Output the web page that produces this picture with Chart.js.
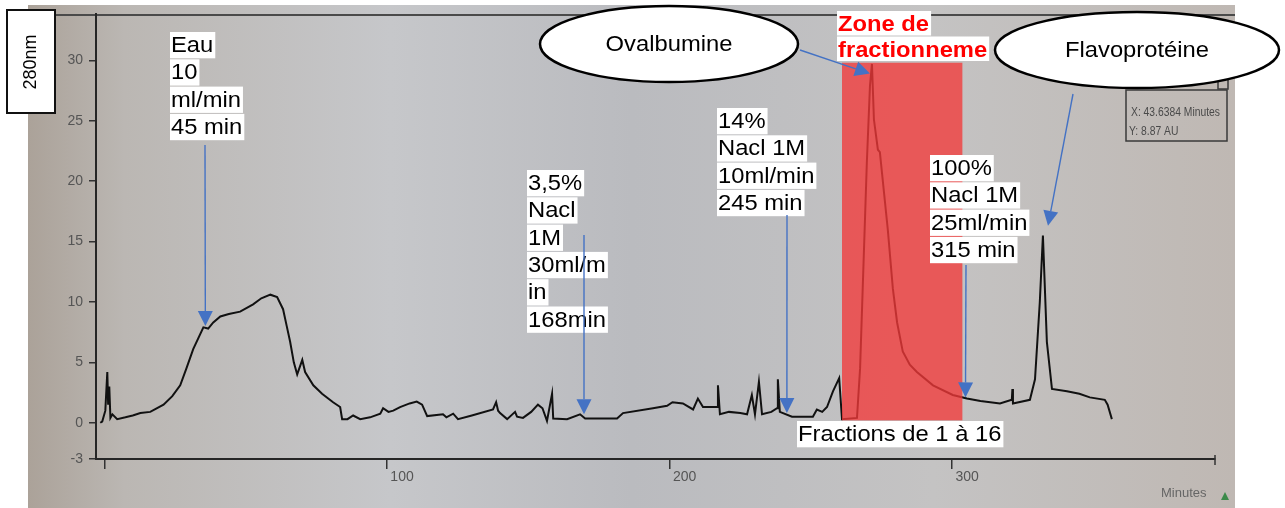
<!DOCTYPE html>
<html>
<head>
<meta charset="utf-8">
<title>Chromatogramme 280nm</title>
<script src="https://cdn.jsdelivr.net/npm/chart.js@4.4.1/dist/chart.umd.min.js"></script>
<style>
  html, body { margin: 0; padding: 0; background: #fff; }
  #wrap { width: 1285px; height: 508px; }
</style>
</head>
<body>
<div id="wrap"><canvas id="chromato" width="1285" height="508"></canvas></div>
<script>
// Elution time (minutes) and absorbance at 280 nm (AU)
const minutes = [
  -1.5, -0.8, 0.3, 1.0, 1.3, 1.7, 2.1, 2.8, 4.5, 7.4, 10, 12.7, 16.2, 20.9, 24, 26.8, 29, 31.4,
  35, 36.7, 38.5, 41, 44, 48, 52.6, 55.5, 58.7, 61.1, 63.2, 64.5, 65.7, 67, 68.2, 70, 71, 73.9,
  77, 80.9, 83.4, 84.1, 86, 88, 90.5, 94, 97.6, 98.6, 100.5, 102.2, 104.6, 108, 110.5, 112.4,
  114.2, 119.8, 121, 123.4, 125.1, 130, 137.5, 138.6, 139.3, 140, 142.5, 145.3, 146, 148.1, 151,
  153.4, 155, 156.6, 158.4, 158.8, 163.7, 168.3, 170.1, 181.4, 183.5, 194.1, 199.1, 201, 204.7,
  208.3, 210, 211.8, 216.8, 217.1, 217.8, 221, 225, 227.4, 229.1, 230.2, 231.6, 232.7, 236, 238,
  238.3, 239, 243.3, 250.7, 252.1, 254, 255.7, 257.8, 260, 261, 266.3, 267.4, 269.8, 270.9, 271.6,
  272.3, 273.7, 274.4, 277.2, 279, 280.5, 282.5, 285, 287.5, 293.2, 300.2, 305.2, 310, 316.9, 321.1,
  321.3, 321.5, 327.5, 329.3, 331, 332.1, 333.5, 335.3, 340.6, 345, 348.7, 354, 355, 356.5
];
const absorbance = [
  0, 0.1, 1.0, 4.2, 1.5, 3.0, 0.4, 0.7, 0.3, 0.45, 0.6, 0.8, 0.9, 1.5, 2.2, 3.1, 4.5, 6.1,
  7.9, 7.8, 8.3, 8.8, 9.0, 9.2, 9.8, 10.3, 10.6, 10.4, 9.4, 8.0, 6.7, 5.0, 4.0, 5.2, 4.2, 3.1,
  2.4, 1.7, 1.3, 0.3, 0.3, 0.6, 0.3, 0.45, 0.75, 1.2, 0.9, 1.0, 1.3, 1.6, 1.75, 1.5,
  0.55, 0.7, 0.45, 0.75, 0.3, 0.6, 1.1, 1.7, 1.0, 0.8, 0.3, 0.9, 0.5, 0.4, 0.9,
  1.5, 1.2, 0.15, 2.4, 0.35, 0.3, 0.7, 0.35, 0.35, 0.8, 1.2, 1.4, 1.7, 1.6,
  1.1, 2.0, 1.3, 1.3, 3.1, 0.7, 0.9, 0.8, 0.7, 2.3, 0.7, 3.4, 0.7, 0.9, 1.2,
  3.6, 0.9, 0.5, 0.5, 1.1, 0.9, 1.3, 2.6, 3.7, 0.3, 0.4, 4.5, 21.6, 27.9, 29.7,
  25.1, 22.6, 22.4, 16.0, 11.1, 8.3, 5.9, 4.8, 4.2, 3.1, 2.3, 2.0, 1.8, 1.6, 1.9,
  2.8, 1.6, 1.9, 3.6, 10, 15.5, 6.7, 2.8, 2.6, 2.4, 2.1, 1.9, 1.5, 0.3
];
const xTicks = [0, 100, 200, 300];
const yTicks = [-3, 0, 5, 10, 15, 20, 25, 30];

// Fraction collection window (minutes) and its height (AU)
const fractionZone = [261, 303.6];
const fractionHeight = [0.2, 29.8];

// Annotation text blocks (pixel layout) with arrow tips in data units
const notes = [
  { lines: ["Eau", "10", "ml/min", "45 min"], x: 171, y: 32, tail: [205, 145], tip: [35.7, 8.0] },
  { lines: ["3,5%", "Nacl", "1M", "30ml/m", "in", "168min"], x: 528, y: 170, tail: [584, 235], tip: [169.7, 0.7] },
  { lines: ["14%", "Nacl 1M", "10ml/min", "245 min"], x: 718, y: 108, tail: [787, 215], tip: [241.5, 0.8] },
  { lines: ["100%", "Nacl 1M", "25ml/min", "315 min"], x: 931, y: 155, tail: [966, 265], tip: [304.7, 2.1] }
];
const bubbles = [
  { text: "Ovalbumine", cx: 669, cy: 44, rx: 129, ry: 38, tail: [800, 50], tip: [270.9, 28.9] },
  { text: "Flavoprotéine", cx: 1137, cy: 50, rx: 142, ry: 38, tail: [1073, 94], tip: [333.9, 16.3] }
];

const FONT = '"Liberation Sans", Arial, sans-serif';
const ARROW = "#4472c4";

function textLines(ctx, lines, x, y, opts) {
  const pitch = opts.pitch || 27.3;
  const sx = opts.sx || 1.08;
  ctx.save();
  ctx.font = opts.font;
  ctx.textBaseline = "alphabetic";
  lines.forEach(function (line, i) {
    const top = y + i * pitch;
    const w = ctx.measureText(line).width * sx;
    ctx.fillStyle = "#fff";
    ctx.fillRect(x - 1, top, w + 3, pitch - 1);
    ctx.save();
    ctx.translate(x, top + 20);
    ctx.scale(sx, 1);
    ctx.fillStyle = opts.color || "#000";
    ctx.fillText(line, 0, 0);
    ctx.restore();
  });
  ctx.restore();
}

function arrow(ctx, x0, y0, x1, y1) {
  const ang = Math.atan2(y1 - y0, x1 - x0);
  const len = 15, half = 7.5;
  const bx = x1 - Math.cos(ang) * len, by = y1 - Math.sin(ang) * len;
  ctx.save();
  ctx.strokeStyle = ARROW;
  ctx.fillStyle = ARROW;
  ctx.lineWidth = 1.4;
  ctx.beginPath();
  ctx.moveTo(x0, y0);
  ctx.lineTo(bx, by);
  ctx.stroke();
  ctx.beginPath();
  ctx.moveTo(x1, y1);
  ctx.lineTo(bx - Math.sin(ang) * half, by + Math.cos(ang) * half);
  ctx.lineTo(bx + Math.sin(ang) * half, by - Math.cos(ang) * half);
  ctx.closePath();
  ctx.fill();
  ctx.restore();
}

const photoBackground = {
  id: "photoBackground",
  beforeDraw(chart) {
    const ctx = chart.ctx;
    ctx.save();
    ctx.fillStyle = "#fff";
    ctx.fillRect(0, 0, chart.width, chart.height);
    const g = ctx.createLinearGradient(28, 0, 1235, 0);
    g.addColorStop(0, "#aba299");
    g.addColorStop(0.08, "#bbb7b3");
    g.addColorStop(0.3, "#c6c7ca");
    g.addColorStop(0.5, "#babbbf");
    g.addColorStop(0.75, "#c4c3c3");
    g.addColorStop(1, "#bfb8b3");
    ctx.fillStyle = g;
    ctx.fillRect(28, 5, 1207, 503);
    ctx.strokeStyle = "#4a4a4a";
    ctx.lineWidth = 2;
    ctx.beginPath();
    ctx.moveTo(28, 15);
    ctx.lineTo(1235, 15);
    ctx.stroke();
    ctx.restore();
  }
};

const fractionShade = {
  id: "fractionShade",
  afterDatasetsDraw(chart) {
    const ctx = chart.ctx, xs = chart.scales.x, ys = chart.scales.y;
    const x0 = xs.getPixelForValue(fractionZone[0]), x1 = xs.getPixelForValue(fractionZone[1]);
    const y0 = ys.getPixelForValue(fractionHeight[1]), y1 = ys.getPixelForValue(fractionHeight[0]);
    ctx.save();
    ctx.fillStyle = "rgba(242, 58, 58, 0.78)";
    ctx.fillRect(x0, y0, x1 - x0, y1 - y0);
    ctx.restore();
  }
};

const annotations = {
  id: "annotations",
  afterDraw(chart) {
    const ctx = chart.ctx, xs = chart.scales.x, ys = chart.scales.y;
    const big = "22px " + FONT;

    // y-axis caption box
    ctx.save();
    ctx.fillStyle = "#fff";
    ctx.fillRect(7, 10, 48, 103);
    ctx.strokeStyle = "#111";
    ctx.lineWidth = 2;
    ctx.strokeRect(7, 10, 48, 103);
    ctx.translate(31, 62);
    ctx.rotate(-Math.PI / 2);
    ctx.font = "18px " + FONT;
    ctx.fillStyle = "#000";
    ctx.textAlign = "center";
    ctx.textBaseline = "middle";
    ctx.fillText("280nm", 0, 0);
    ctx.restore();

    // cursor read-out of the software
    ctx.save();
    ctx.strokeStyle = "#3a3a3a";
    ctx.lineWidth = 1.5;
    ctx.strokeRect(1218, 78, 10, 11);
    ctx.strokeRect(1126, 90, 101, 51);
    ctx.fillStyle = "#4a4a4a";
    ctx.font = "12px " + FONT;
    ctx.save();
    ctx.translate(1131, 116);
    ctx.scale(0.86, 1);
    ctx.fillText("X: 43.6384 Minutes", 0, 0);
    ctx.restore();
    ctx.save();
    ctx.translate(1129, 135);
    ctx.scale(0.86, 1);
    ctx.fillText("Y: 8.87 AU", 0, 0);
    ctx.restore();
    ctx.font = "13px " + FONT;
    ctx.fillStyle = "#666";
    ctx.fillText("Minutes", 1161, 497);
    ctx.fillStyle = "#3c8a4a";
    ctx.beginPath();
    ctx.moveTo(1221, 500);
    ctx.lineTo(1229, 500);
    ctx.lineTo(1225, 492);
    ctx.closePath();
    ctx.fill();
    ctx.restore();

    // x-axis end tick
    ctx.save();
    ctx.strokeStyle = "#333";
    ctx.lineWidth = 1.5;
    ctx.beginPath();
    ctx.moveTo(chart.chartArea.right, chart.chartArea.bottom - 4);
    ctx.lineTo(chart.chartArea.right, chart.chartArea.bottom + 6);
    ctx.stroke();
    ctx.restore();

    notes.forEach(function (n) {
      textLines(ctx, n.lines, n.x, n.y, { font: big });
      arrow(ctx, n.tail[0], n.tail[1], xs.getPixelForValue(n.tip[0]), ys.getPixelForValue(n.tip[1]));
    });

    textLines(ctx, ["Zone de", "fractionneme"], 838, 11, { font: "bold 22px " + FONT, color: "#ff0000", pitch: 25.5 });
    textLines(ctx, ["Fractions de 1 à 16"], 798, 421, { font: big });

    bubbles.forEach(function (b) {
      ctx.save();
      ctx.beginPath();
      ctx.ellipse(b.cx, b.cy, b.rx, b.ry, 0, 0, Math.PI * 2);
      ctx.fillStyle = "#fff";
      ctx.fill();
      ctx.strokeStyle = "#000";
      ctx.lineWidth = 2.5;
      ctx.stroke();
      ctx.translate(b.cx, b.cy + 1);
      ctx.scale(1.08, 1);
      ctx.font = big;
      ctx.fillStyle = "#000";
      ctx.textAlign = "center";
      ctx.textBaseline = "middle";
      ctx.fillText(b.text, 0, 0);
      ctx.restore();
      arrow(ctx, b.tail[0], b.tail[1], xs.getPixelForValue(b.tip[0]), ys.getPixelForValue(b.tip[1]));
    });
  }
};

new Chart(document.getElementById("chromato"), {
  type: "line",
  data: {
    datasets: [
      {
        label: "A280",
        data: minutes.map(function (t, i) { return { x: t, y: absorbance[i] }; }),
        borderColor: "#111",
        borderWidth: 2,
        pointRadius: 0,
        tension: 0,
        fill: false
      }
    ]
  },
  options: {
    responsive: false,
    animation: false,
    devicePixelRatio: 1,
    layout: { padding: { top: 12, right: 70, left: 0, bottom: 0 } },
    plugins: {
      legend: { display: false },
      tooltip: { enabled: false }
    },
    scales: {
      x: {
        type: "linear",
        min: -3,
        max: 393,
        afterFit: function (s) { s.height = 49; },
        afterBuildTicks: function (s) { s.ticks = xTicks.map(function (v) { return { value: v }; }); },
        grid: { drawOnChartArea: false, tickLength: 10, color: "#333", lineWidth: 1.5 },
        border: { color: "#262626", width: 2 },
        ticks: {
          color: "#555",
          font: { family: FONT, size: 14 },
          padding: 0,
          labelOffset: 15,
          maxRotation: 0,
          callback: function (v) { return v === 0 ? "" : v; }
        }
      },
      y: {
        min: -3,
        max: 33.8,
        afterFit: function (s) { s.width = 96; },
        afterBuildTicks: function (s) { s.ticks = yTicks.map(function (v) { return { value: v }; }); },
        grid: { drawOnChartArea: false, tickLength: 7, color: "#333", lineWidth: 1.5 },
        border: { color: "#262626", width: 2 },
        ticks: {
          color: "#555",
          font: { family: FONT, size: 14 },
          padding: 6
        }
      }
    }
  },
  plugins: [photoBackground, fractionShade, annotations]
});
</script>
</body>
</html>
